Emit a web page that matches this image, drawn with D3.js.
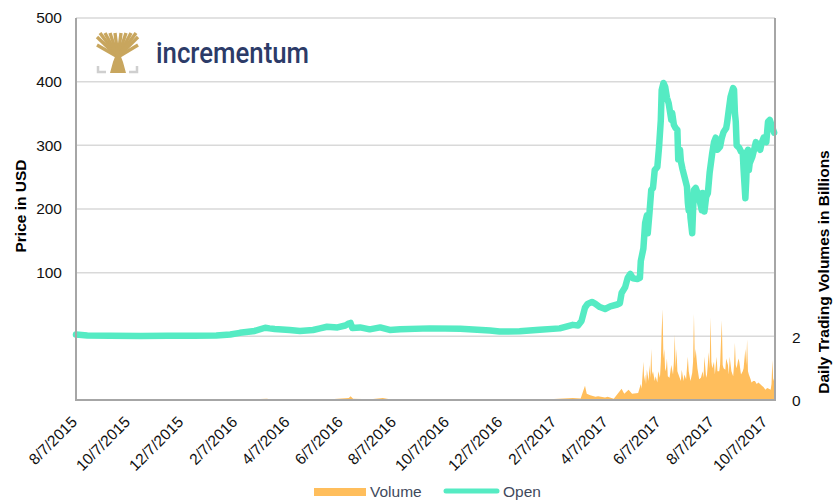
<!DOCTYPE html>
<html>
<head>
<meta charset="utf-8">
<script src="https://cdn.jsdelivr.net/npm/d3@7"></script>
<style>
  body { margin: 0; background: #fff; }
  svg { display: block; font-family: "Liberation Sans", Arial, sans-serif; }
</style>
</head>
<body>
<svg id="chart" width="839" height="501"></svg>
<script>
// ETH open price (USD)
var priceDates = ["2015-08-07","2015-08-20","2015-09-15","2015-10-20","2015-11-20","2015-12-20","2016-01-15","2016-01-31","2016-02-11","2016-02-28",
  "2016-03-11","2016-03-16","2016-03-22","2016-04-08","2016-04-20","2016-05-05","2016-05-13","2016-05-21","2016-06-02","2016-06-11",
  "2016-06-14","2016-06-17","2016-06-19","2016-06-28","2016-07-09","2016-07-21","2016-08-01","2016-08-13","2016-09-16","2016-10-21",
  "2016-11-24","2016-12-05","2016-12-28","2017-01-20","2017-02-12","2017-02-27","2017-03-05","2017-03-09","2017-03-13","2017-03-16",
  "2017-03-21","2017-03-25","2017-03-30","2017-04-05","2017-04-11","2017-04-19","2017-04-22","2017-04-24","2017-04-28","2017-05-01",
  "2017-05-04","2017-05-07","2017-05-12","2017-05-15","2017-05-16","2017-05-19","2017-05-21","2017-05-23","2017-05-24","2017-05-26",
  "2017-05-28","2017-05-30","2017-06-01","2017-06-04","2017-06-06","2017-06-08","2017-06-09","2017-06-11","2017-06-13","2017-06-15",
  "2017-06-17","2017-06-20","2017-06-21","2017-06-23","2017-06-25","2017-06-27","2017-06-28","2017-06-30","2017-07-01","2017-07-03",
  "2017-07-06","2017-07-08","2017-07-09","2017-07-10","2017-07-11","2017-07-12","2017-07-14","2017-07-15","2017-07-16","2017-07-18",
  "2017-07-21","2017-07-23","2017-07-25","2017-07-26","2017-07-28","2017-07-30","2017-08-01","2017-08-03","2017-08-06","2017-08-08",
  "2017-08-10","2017-08-12","2017-08-15","2017-08-17","2017-08-19","2017-08-22","2017-08-23","2017-08-25","2017-08-27","2017-08-30",
  "2017-08-31","2017-09-01","2017-09-02","2017-09-03","2017-09-06","2017-09-08","2017-09-10","2017-09-11","2017-09-13","2017-09-14",
  "2017-09-15","2017-09-16","2017-09-17","2017-09-18","2017-09-21","2017-09-23","2017-09-25","2017-09-27","2017-09-30","2017-10-02",
  "2017-10-04","2017-10-07","2017-10-09","2017-10-11","2017-10-13","2017-10-16"];
var priceValues = [2.8,1.3,0.9,0.6,0.9,0.9,1.3,3,5.5,8.5,
  13.5,12.5,11.5,10,8.5,10,12.5,15,14,17,
  19.5,21,13,14,11,14,10,11,12.5,12,
  9,7.5,8,10.5,12.5,18,17,24,45,51,
  54,51,46,43,47,50,52,68,77,92,
  98,91,90,92,118,138,178,190,162,194,
  230,233,261,266,298,340,387,398,392,375,
  366,340,351,332,327,324,278,293,275,262,
  246,235,210,198,219,187,162,198,230,233,
  222,210,198,225,196,219,225,257,288,305,
  312,293,298,312,321,327,335,356,376,390,
  387,351,337,300,296,290,288,261,217,245,
  290,293,261,272,282,293,305,300,293,305,
  312,305,337,340,332,320];

// daily trading volume (billions)
var volDates = ["2015-08-07","2016-02-15","2016-03-13","2016-03-20","2016-05-25","2016-06-15","2016-06-17","2016-06-20","2016-07-10","2016-07-24",
  "2016-08-01","2016-10-10","2016-12-15","2017-01-20","2017-02-27","2017-03-08","2017-03-13","2017-03-15","2017-03-19","2017-03-25",
  "2017-03-28","2017-04-05","2017-04-08","2017-04-15","2017-04-24","2017-04-27","2017-05-02","2017-05-06","2017-05-13",
  "2017-05-16","2017-05-17","2017-05-19","2017-05-20","2017-05-21","2017-05-22","2017-05-23","2017-05-25","2017-05-26","2017-05-27",
  "2017-05-28","2017-05-29","2017-05-30","2017-06-01","2017-06-02","2017-06-04","2017-06-05","2017-06-07","2017-06-08","2017-06-09",
  "2017-06-10","2017-06-11","2017-06-12","2017-06-13","2017-06-14","2017-06-15","2017-06-16","2017-06-18","2017-06-20","2017-06-22",
  "2017-06-23","2017-06-24","2017-06-25","2017-06-26","2017-06-27","2017-06-29","2017-07-01","2017-07-02","2017-07-04","2017-07-05",
  "2017-07-07","2017-07-09","2017-07-10","2017-07-12","2017-07-14","2017-07-15","2017-07-16","2017-07-17","2017-07-18","2017-07-20",
  "2017-07-22","2017-07-24","2017-07-26","2017-07-27","2017-07-28","2017-07-30","2017-07-31","2017-08-02","2017-08-03","2017-08-04",
  "2017-08-05","2017-08-06","2017-08-08","2017-08-09","2017-08-11","2017-08-12","2017-08-14","2017-08-15","2017-08-17","2017-08-18",
  "2017-08-19","2017-08-21","2017-08-22","2017-08-24","2017-08-25","2017-08-26","2017-08-28","2017-08-30","2017-08-31","2017-09-01",
  "2017-09-02","2017-09-03","2017-09-05","2017-09-06","2017-09-08","2017-09-10","2017-09-11","2017-09-13","2017-09-14","2017-09-15",
  "2017-09-16","2017-09-17","2017-09-19","2017-09-20","2017-09-22","2017-09-24","2017-09-26","2017-09-28","2017-10-02","2017-10-04",
  "2017-10-06","2017-10-08","2017-10-10","2017-10-12","2017-10-13","2017-10-14","2017-10-15","2017-10-16","2017-10-17"];
var volValues = [0,0.005,0.04,0.01,0.02,0.06,0.12,0.04,0.02,0.06,
  0.02,0.01,0.005,0.01,0.06,0.05,0.45,0.2,0.15,0.1,
  0.12,0.08,0.1,0.04,0.35,0.2,0.32,0.2,0.22,
  0.5,0.35,1.2,0.6,0.8,0.5,0.95,0.6,1.1,0.7,
  1.6,0.8,0.9,0.6,0.75,0.55,0.9,0.7,1.2,2.2,
  2.85,1.3,1.6,0.9,1.0,1.3,0.75,0.7,1.1,0.8,
  1.2,2.05,1.0,1.6,0.9,0.75,0.6,0.95,0.6,0.8,
  0.65,1.36,0.9,0.6,0.85,1.2,2.7,1.3,1.6,1.0,
  0.65,0.7,0.9,0.7,1.36,0.7,0.8,1.5,1.0,2.6,
  1.2,1.0,1.2,0.8,1.36,0.9,0.9,1.1,2.5,1.1,
  1.0,0.95,1.3,1.1,0.8,1.36,0.9,0.75,1.1,1.8,
  1.1,1.0,1.3,1.2,0.8,0.9,1.0,1.6,1.1,1.9,
  0.9,0.8,0.65,0.55,0.6,0.6,0.5,0.55,0.45,0.4,
  0.32,0.38,0.35,0.32,0.5,1.26,0.6,0.7,0.6];

var xTickLabels = ["8/7/2015","10/7/2015","12/7/2015","2/7/2016","4/7/2016","6/7/2016","8/7/2016",
  "10/7/2016","12/7/2016","2/7/2017","4/7/2017","6/7/2017","8/7/2017","10/7/2017"];
var priceTicks = [0, 100, 200, 300, 400, 500];
var priceTickLabels = ["", "100", "200", "300", "400", "500"];
var volTicks = [0, 2];

var parseIso = d3.timeParse("%Y-%m-%d");
var parseUs = d3.timeParse("%m/%d/%Y");

var svg = d3.select("#chart");
svg.append("rect").attr("width", 839).attr("height", 501).attr("fill", "#fff");

var plotLeft = 76, plotRight = 775, plotTop = 18, plotBottom = 400;

var x = d3.scaleTime()
  .domain([parseIso("2015-08-07"), parseIso("2017-10-17")])
  .range([plotLeft, plotRight]);
var y = d3.scaleLinear().domain([-100, 500]).range([plotBottom, plotTop]);
var yVol = d3.scaleLinear().domain([0, 12]).range([plotBottom, plotTop]);

var price = priceDates.map((d, i) => ({date: parseIso(d), v: priceValues[i]}));
var vol = volDates.map((d, i) => ({date: parseIso(d), v: volValues[i]}));

// gridlines
svg.append("g").selectAll("line")
  .data(priceTicks)
  .join("line")
  .attr("x1", plotLeft).attr("x2", plotRight)
  .attr("y1", d => y(d)).attr("y2", d => y(d))
  .attr("stroke", "#d9d9d9")
  .attr("stroke-width", 1.5);

// volume area
var area = d3.area()
  .x(d => x(d.date))
  .y0(yVol(0))
  .y1(d => yVol(d.v));
svg.append("path")
  .datum(vol)
  .attr("d", area)
  .attr("fill", "#ffbe5c");

// price line
var line = d3.line()
  .x(d => x(d.date))
  .y(d => y(d.v));
svg.append("path")
  .datum(price)
  .attr("d", line)
  .attr("fill", "none")
  .attr("stroke", "#55ebc3")
  .attr("stroke-width", 6.5)
  .attr("stroke-linejoin", "round")
  .attr("stroke-linecap", "round");

// frame
svg.append("path")
  .attr("d", `M${plotLeft},${plotTop}V${plotBottom}H${plotRight}V${plotTop}`)
  .attr("fill", "none")
  .attr("stroke", "#a6a6a6")
  .attr("stroke-width", 2);

// left tick labels
svg.append("g").selectAll("text")
  .data(priceTicks)
  .join("text")
  .attr("x", 62)
  .attr("y", d => y(d))
  .attr("dy", "0.35em")
  .attr("text-anchor", "end")
  .attr("font-size", 15.5)
  .attr("fill", "#111")
  .text((d, i) => priceTickLabels[i]);

// right tick labels
svg.append("g").selectAll("text")
  .data(volTicks)
  .join("text")
  .attr("x", 792)
  .attr("y", d => yVol(d) + 1)
  .attr("dy", "0.35em")
  .attr("font-size", 15.5)
  .attr("fill", "#111")
  .text(d => d);

// x tick labels
svg.append("g").selectAll("text")
  .data(xTickLabels)
  .join("text")
  .attr("transform", d => `translate(${x(parseUs(d)) + 2},423) rotate(-45)`)
  .attr("text-anchor", "end")
  .attr("font-size", 15.5)
  .attr("fill", "#111")
  .text(d => d);

// axis titles
svg.append("text")
  .attr("transform", "translate(26,206) rotate(-90)")
  .attr("text-anchor", "middle")
  .attr("font-size", 15.5)
  .attr("font-weight", "bold")
  .text("Price in USD");
svg.append("text")
  .attr("transform", "translate(829,272) rotate(-90)")
  .attr("text-anchor", "middle")
  .attr("font-size", 15.5)
  .attr("font-weight", "bold")
  .text("Daily Trading Volumes in Billions");

// legend
var legend = svg.append("g").attr("font-size", 15.5).attr("fill", "#3f4a5c");
legend.append("rect").attr("x", 314).attr("y", 488).attr("width", 52).attr("height", 8).attr("fill", "#ffbe5c");
legend.append("text").attr("x", 370).attr("y", 492).attr("dy", "0.35em").text("Volume");
legend.append("line").attr("x1", 446).attr("x2", 497).attr("y1", 491).attr("y2", 491)
  .attr("stroke", "#55ebc3").attr("stroke-width", 5).attr("stroke-linecap", "round");
legend.append("text").attr("x", 503).attr("y", 492).attr("dy", "0.35em").text("Open");

// logo
var logo = svg.append("g");
var tips = [[97,37],[97,45],[100,33],[105,33],[110,33],[115,33],[121,33],[126,33],[131,33],[136,33],[138,37],[138,45]];
logo.selectAll("line.branch")
  .data(tips)
  .join("line")
  .attr("x1", 118).attr("y1", 57)
  .attr("x2", d => d[0]).attr("y2", d => d[1])
  .attr("stroke", "#c8a65e")
  .attr("stroke-width", 3.4)
  .attr("stroke-linecap", "butt");
logo.append("path")
  .attr("d", "M110,73 L113,62 Q116,55 118,47 Q120,55 123,62 L126,73 Z")
  .attr("fill", "#c8a65e");
logo.append("path")
  .attr("d", "M98,66 V72 H106 M137,66 V72 H129")
  .attr("fill", "none")
  .attr("stroke", "#cfcfcf")
  .attr("stroke-width", 2.5);
logo.append("text")
  .attr("x", 156).attr("y", 63)
  .attr("font-family", "Roboto, 'Open Sans', sans-serif")
  .attr("font-weight", 500)
  .attr("font-size", 29)
  .attr("textLength", 153)
  .attr("lengthAdjust", "spacingAndGlyphs")
  .attr("fill", "#2c3b68")
  .text("incrementum");
</script>
</body>
</html>
